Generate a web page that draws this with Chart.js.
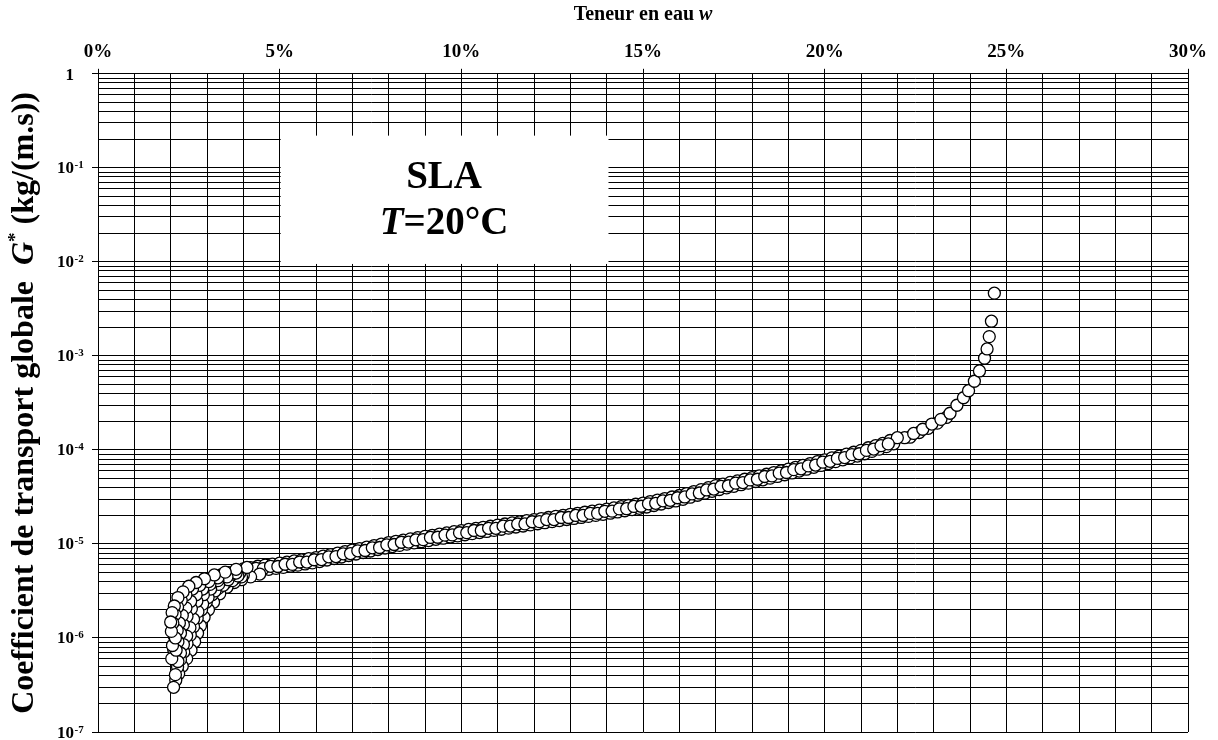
<!DOCTYPE html>
<html>
<head>
<meta charset="utf-8">
<script src="https://cdn.jsdelivr.net/npm/chart.js@4.4.1/dist/chart.umd.min.js"></script>
<style>
  html, body { margin: 0; padding: 0; background: #fff; }
</style>
</head>
<body>
<canvas id="graphe" width="1218" height="740"></canvas>
<script>
// ---------------------------------------------- DONNEES -------------------------------------
// w en %, G* donne en log10 (echelle log de 1e-7 a 1)

const etiquettesX = ['0%', '5%', '10%', '15%', '20%', '25%', '30%'];
const exposantsY = [0, -1, -2, -3, -4, -5, -6, -7];

// bande principale, brin superieur
const wBandeA = [3.0,3.2,3.4,3.6,3.8,4.0,4.2,4.4,4.6,4.8,5.0,5.2,5.4,5.6,5.8,6.0,6.2,6.4,6.6,6.8,
  7.0,7.2,7.4,7.6,7.8,8.0,8.2,8.4,8.6,8.8,9.0,9.2,9.4,9.6,9.8,10.0,10.2,10.4,10.6,10.8,
  11.0,11.2,11.4,11.6,11.8,12.0,12.2,12.4,12.6,12.8,13.0,13.2,13.4,13.6,13.8,14.0,14.2,14.4,14.6,14.8,
  15.0,15.2,15.4,15.6,15.8,16.0,16.2,16.4,16.6,16.8,17.0,17.2,17.4,17.6,17.8,18.0,18.2,18.4,18.6,18.8,
  19.0,19.2,19.4,19.6,19.8,20.0,20.2,20.4,20.6,20.8,21.0,21.2,21.4,21.6,21.8,22.0];
const logGBandeA = [-5.375,-5.351,-5.327,-5.305,-5.285,-5.265,-5.251,-5.237,-5.225,-5.215,
  -5.205,-5.193,-5.181,-5.169,-5.157,-5.145,-5.129,-5.113,-5.097,-5.081,
  -5.065,-5.049,-5.033,-5.017,-5.001,-4.985,-4.972,-4.959,-4.946,-4.933,
  -4.920,-4.908,-4.895,-4.883,-4.870,-4.858,-4.846,-4.835,-4.823,-4.812,
  -4.800,-4.788,-4.776,-4.765,-4.753,-4.741,-4.730,-4.719,-4.707,-4.696,
  -4.685,-4.674,-4.663,-4.652,-4.641,-4.630,-4.617,-4.604,-4.591,-4.578,
  -4.565,-4.549,-4.533,-4.517,-4.501,-4.485,-4.464,-4.443,-4.422,-4.401,
  -4.380,-4.363,-4.346,-4.329,-4.312,-4.295,-4.277,-4.259,-4.241,-4.223,
  -4.205,-4.185,-4.165,-4.145,-4.125,-4.105,-4.085,-4.065,-4.045,-4.025,
  -4.005,-3.977,-3.955,-3.930,-3.900,-3.870];

// bande principale, brin inferieur
const wBandeB = [3.1,3.3,3.5,3.7,3.9,4.1,4.3,4.5,4.7,4.9,5.1,5.3,5.5,5.7,5.9,6.1,6.3,6.5,6.7,6.9,
  7.1,7.3,7.5,7.7,7.9,8.1,8.3,8.5,8.7,8.9,9.1,9.3,9.5,9.7,9.9,10.1,10.3,10.5,10.7,10.9,
  11.1,11.3,11.5,11.7,11.9,12.1,12.3,12.5,12.7,12.9,13.1,13.3,13.5,13.7,13.9,14.1,14.3,14.5,14.7,14.9,
  15.1,15.3,15.5,15.7,15.9,16.1,16.3,16.5,16.7,16.9,17.1,17.3,17.5,17.7,17.9,18.1,18.3,18.5,18.7,18.9,
  19.1,19.3,19.5,19.7,19.9,20.1,20.3,20.5,20.7,20.9,21.1,21.3,21.5,21.7,21.9];
const logGBandeB = [-5.413,-5.389,-5.365,-5.345,-5.325,-5.308,-5.294,-5.280,-5.270,-5.260,
  -5.249,-5.237,-5.225,-5.213,-5.201,-5.187,-5.171,-5.155,-5.139,-5.123,
  -5.107,-5.091,-5.075,-5.059,-5.043,-5.028,-5.015,-5.002,-4.989,-4.976,
  -4.964,-4.951,-4.939,-4.926,-4.914,-4.902,-4.890,-4.879,-4.867,-4.856,
  -4.844,-4.832,-4.820,-4.809,-4.797,-4.785,-4.774,-4.763,-4.751,-4.740,
  -4.729,-4.718,-4.707,-4.696,-4.685,-4.673,-4.660,-4.647,-4.634,-4.621,
  -4.607,-4.591,-4.575,-4.559,-4.543,-4.525,-4.503,-4.482,-4.461,-4.440,
  -4.421,-4.404,-4.387,-4.370,-4.353,-4.336,-4.318,-4.300,-4.282,-4.264,
  -4.245,-4.225,-4.205,-4.185,-4.165,-4.145,-4.125,-4.105,-4.085,-4.065,
  -4.041,-4.016,-3.992,-3.965,-3.935];

// bande principale, brin median (un peu disperse)
const wBandeC = [3.15,3.35,3.55,3.75,3.95,4.15,4.35,4.55,4.75,4.95,5.15,5.35,5.55,5.75,5.95,6.15,6.35,6.55,6.75,6.95,
  7.15,7.35,7.55,7.75,7.95,8.15,8.35,8.55,8.75,8.95,9.15,9.35,9.55,9.75,9.95,10.15,10.35,10.55,10.75,10.95,
  11.15,11.35,11.55,11.75,11.95,12.15,12.35,12.55,12.75,12.95,13.15,13.35,13.55,13.75,13.95,14.15,14.35,14.55,14.75,14.95,
  15.15,15.35,15.55,15.75,15.95,16.15,16.35,16.55,16.75,16.95,17.15,17.35,17.55,17.75,17.95,18.15,18.35,18.55,18.75,18.95,
  19.15,19.35,19.55,19.75,19.95,20.15,20.35,20.55,20.75,20.95,21.15,21.35,21.55,21.75];
const logGBandeC = [-5.372,-5.368,-5.330,-5.322,-5.290,-5.288,-5.260,-5.262,-5.238,-5.240,
  -5.216,-5.217,-5.192,-5.193,-5.168,-5.166,-5.137,-5.134,-5.105,-5.102,
  -5.073,-5.070,-5.041,-5.038,-5.009,-5.006,-4.982,-4.980,-4.956,-4.954,
  -4.931,-4.929,-4.906,-4.904,-4.881,-4.880,-4.857,-4.857,-4.834,-4.834,
  -4.811,-4.810,-4.788,-4.787,-4.764,-4.763,-4.741,-4.741,-4.719,-4.719,
  -4.697,-4.697,-4.675,-4.675,-4.653,-4.651,-4.627,-4.625,-4.601,-4.599,
  -4.573,-4.568,-4.541,-4.536,-4.509,-4.500,-4.468,-4.458,-4.426,-4.416,
  -4.387,-4.381,-4.353,-4.347,-4.319,-4.312,-4.283,-4.276,-4.247,-4.240,
  -4.210,-4.201,-4.170,-4.161,-4.130,-4.121,-4.090,-4.081,-4.050,-4.041,
  -4.005,-3.991,-3.955,-3.936];

// remontee finale vers la saturation
const wQueue = [22.2,22.45,22.7,22.95,23.2,23.45,23.64,23.82,23.96,24.12,24.26,24.40,24.47,24.53,24.59,24.67];
const logGQueue = [-3.870,-3.825,-3.780,-3.725,-3.675,-3.610,-3.525,-3.445,-3.370,-3.270,-3.160,-3.025,-2.926,-2.795,-2.631,-2.333];
const wQueueB = [22.35,22.6,22.85,23.1,23.35];
const logGQueueB = [-3.865,-3.815,-3.770,-3.715,-3.655];

// eventail aux faibles teneurs en eau (plusieurs branches)
const wBranches = [
  [2.08,2.14,2.22,2.32,2.44,2.56,2.66,2.74,2.82,2.92,3.04,3.18,3.35,3.55,3.75,3.95,4.2,4.45],
  [2.13,2.19,2.27,2.36,2.45,2.54,2.63,2.73,2.85,2.98,3.14,3.32,3.52,3.75,4.0],
  [2.20,2.27,2.35,2.44,2.53,2.63,2.75,2.88,3.03,3.22,3.45,3.70,3.95],
  [2.03,2.08,2.14,2.21,2.29,2.38,2.49,2.62,2.77,2.95,3.15,3.4,3.65,3.9],
  [2.15,2.20,2.27,2.35,2.45,2.57,2.72,2.90,3.10,3.32,3.58,3.85],
  [2.05,2.10,2.16,2.23,2.32,2.43,2.57,2.74,2.93,3.15,3.40,3.70],
  [2.13,2.18,2.24,2.32,2.42,2.55,2.70,2.88,3.08,3.30,3.55,3.80],
  [2.02,2.06,2.12,2.19,2.29,2.42,2.60,2.80,3.05,3.30],
  [2.00,2.04,2.10,2.20,2.34,2.50,2.70,2.93,3.20,3.50,3.80,4.10]
];
const logGBranches = [
  [-6.525,-6.45,-6.38,-6.30,-6.22,-6.13,-6.04,-5.95,-5.87,-5.78,-5.70,-5.62,-5.53,-5.46,-5.41,-5.38,-5.35,-5.32],
  [-6.39,-6.31,-6.23,-6.15,-6.06,-5.97,-5.88,-5.79,-5.70,-5.62,-5.54,-5.47,-5.41,-5.37,-5.33],
  [-6.25,-6.16,-6.07,-5.98,-5.89,-5.80,-5.72,-5.64,-5.57,-5.50,-5.44,-5.39,-5.35],
  [-6.22,-6.12,-6.03,-5.94,-5.85,-5.77,-5.69,-5.61,-5.54,-5.48,-5.43,-5.38,-5.34,-5.31],
  [-6.13,-6.04,-5.95,-5.86,-5.77,-5.69,-5.61,-5.54,-5.48,-5.43,-5.38,-5.34],
  [-6.08,-5.98,-5.89,-5.80,-5.72,-5.64,-5.57,-5.51,-5.46,-5.41,-5.36,-5.32],
  [-6.00,-5.92,-5.84,-5.76,-5.68,-5.61,-5.54,-5.48,-5.43,-5.39,-5.35,-5.31],
  [-5.93,-5.84,-5.75,-5.67,-5.60,-5.54,-5.48,-5.44,-5.40,-5.36],
  [-5.83,-5.73,-5.66,-5.57,-5.51,-5.45,-5.41,-5.37,-5.33,-5.30,-5.27,-5.25]
];

// cadre blanc de l'annotation (en unites des axes)
const cadreW = [5, 14.05];
const cadreG = [0.22, 0.0095];

// ---------------------------------------------- GRAPHIQUE -------------------------------------

const police = "'Liberation Serif', 'Times New Roman', serif";

function points(w, logG) {
    return w.map((x, i) => ({ x: x, y: Math.pow(10, logG[i]) }));
}

function estDecade(v) {
    let l = Math.log10(v);
    return Math.abs(l - Math.round(l)) < 1e-9;
}

// ecrit une suite de morceaux de texte (styles differents) centree sur x
function texteMixte(ctx, morceaux, x, y) {
    let total = 0;
    morceaux.forEach(m => { ctx.font = m.font; m.w = ctx.measureText(m.t).width; total += m.w; });
    let cx = x - total / 2;
    ctx.textAlign = 'left';
    ctx.textBaseline = 'alphabetic';
    morceaux.forEach(m => {
        ctx.font = m.font;
        ctx.fillText(m.t, cx, y + (m.dy || 0));
        cx += m.w;
    });
}

const styleMarque = {
    showLine: false,
    pointRadius: 6,
    pointHoverRadius: 6,
    pointBackgroundColor: '#ffffff',
    pointBorderColor: '#000000',
    pointBorderWidth: 1.3
};

var datasets = [];
// les branches sont tracees en dernier (index bas = dessus), du haut vers le bas
for (let i = wBranches.length - 1; i >= 0; i--) {
    datasets.push(Object.assign({ label: 'branche ' + (i + 1), data: points(wBranches[i], logGBranches[i]).reverse() }, styleMarque));
}
datasets.push(Object.assign({ label: 'bande C', data: points(wBandeC, logGBandeC) }, styleMarque));
datasets.push(Object.assign({ label: 'bande A', data: points(wBandeA, logGBandeA) }, styleMarque));
datasets.push(Object.assign({ label: 'bande B', data: points(wBandeB, logGBandeB) }, styleMarque));
datasets.push(Object.assign({ label: 'queue', data: points(wQueue, logGQueue) }, styleMarque));
datasets.push(Object.assign({ label: 'queue B', data: points(wQueueB, logGQueueB) }, styleMarque));

const decor = {
    id: 'decor',
    beforeDatasetsDraw(chart) {
        // cadre blanc + texte SLA / T=20°C
        const ctx = chart.ctx;
        const sx = chart.scales.x, sy = chart.scales.y;
        let x0 = sx.getPixelForValue(cadreW[0]), x1 = sx.getPixelForValue(cadreW[1]);
        let y0 = sy.getPixelForValue(cadreG[0]), y1 = sy.getPixelForValue(cadreG[1]);
        ctx.save();
        ctx.fillStyle = '#ffffff';
        ctx.fillRect(x0 + 1, y0, x1 - x0 - 1, y1 - y0);
        ctx.fillStyle = '#000000';
        let cx = (x0 + x1) / 2, h = y1 - y0;
        texteMixte(ctx, [{ t: 'SLA', font: 'bold 39px ' + police }], cx, y0 + 0.41 * h);
        texteMixte(ctx, [
            { t: 'T', font: 'italic bold 39px ' + police },
            { t: '=20°C', font: 'bold 39px ' + police }
        ], cx, y0 + 0.77 * h);
        ctx.restore();
    },
    afterDraw(chart) {
        const ctx = chart.ctx;
        const sy = chart.scales.y;
        const area = chart.chartArea;
        ctx.save();
        ctx.fillStyle = '#000000';
        // etiquettes de l'axe Y : 1, 10^-1 ... 10^-7
        let xr = area.left - 24;
        exposantsY.forEach(e => {
            let y = sy.getPixelForValue(Math.pow(10, e));
            ctx.textBaseline = 'alphabetic';
            ctx.textAlign = 'right';
            ctx.font = 'bold 17px ' + police;
            if (e == 0) {
                ctx.fillText('1', xr, y + 6);
            } else {
                ctx.fillText('10', xr, y + 5.5);
                ctx.textAlign = 'left';
                ctx.font = 'bold 11px ' + police;
                ctx.fillText(String(e), xr + 0.5, y + 0.5);
            }
        });
        // titre axe X
        texteMixte(ctx, [
            { t: 'Teneur en eau ', font: 'bold 20px ' + police },
            { t: 'w', font: 'italic bold 20px ' + police }
        ], (area.left + area.right) / 2, 20);
        // titre axe Y (vertical)
        ctx.translate(33, (area.top + area.bottom) / 2);
        ctx.rotate(-Math.PI / 2);
        texteMixte(ctx, [
            { t: 'Coefficient de transport globale  ', font: 'bold 32px ' + police },
            { t: 'G', font: 'italic bold 32px ' + police },
            { t: '*', font: 'bold 19px ' + police, dy: -12 },
            { t: ' (kg/(m.s))', font: 'bold 32px ' + police }
        ], 0, 0);
        ctx.restore();
    }
};

const graphe = new Chart(document.getElementById('graphe'), {
    type: 'scatter',
    data: { datasets: datasets },
    options: {
        responsive: false,
        animation: false,
        events: [],
        layout: { padding: { left: 92, right: 30, top: 36, bottom: 8 } },
        plugins: { legend: { display: false }, tooltip: { enabled: false } },
        scales: {
            x: {
                type: 'linear',
                position: 'top',
                min: 0,
                max: 30,
                border: { color: '#000000', width: 1 },
                grid: {
                    color: '#000000',
                    lineWidth: 1,
                    tickLength: 5,
                    tickColor: ctx => (ctx.tick && ctx.tick.value % 5 === 0) ? '#000000' : 'rgba(0,0,0,0)'
                },
                ticks: {
                    stepSize: 1,
                    autoSkip: false,
                    maxRotation: 0,
                    padding: 5,
                    color: '#000000',
                    font: { family: police, size: 19, weight: 'bold' },
                    callback: v => (v % 5 === 0) ? etiquettesX[v / 5] : ''
                }
            },
            y: {
                type: 'logarithmic',
                position: 'left',
                min: 1e-7,
                max: 1,
                border: { color: '#000000', width: 1 },
                grid: {
                    color: '#000000',
                    lineWidth: 1,
                    tickLength: 6,
                    tickColor: ctx => (ctx.tick && estDecade(ctx.tick.value)) ? '#000000' : 'rgba(0,0,0,0)'
                },
                ticks: { display: false },
                afterBuildTicks: scale => {
                    let t = [];
                    for (let e = -7; e < 0; e++) {
                        for (let m = 1; m <= 9; m++) t.push({ value: m * Math.pow(10, e) });
                    }
                    t.push({ value: 1 });
                    scale.ticks = t;
                }
            }
        }
    },
    plugins: [decor]
});
</script>
</body>
</html>
